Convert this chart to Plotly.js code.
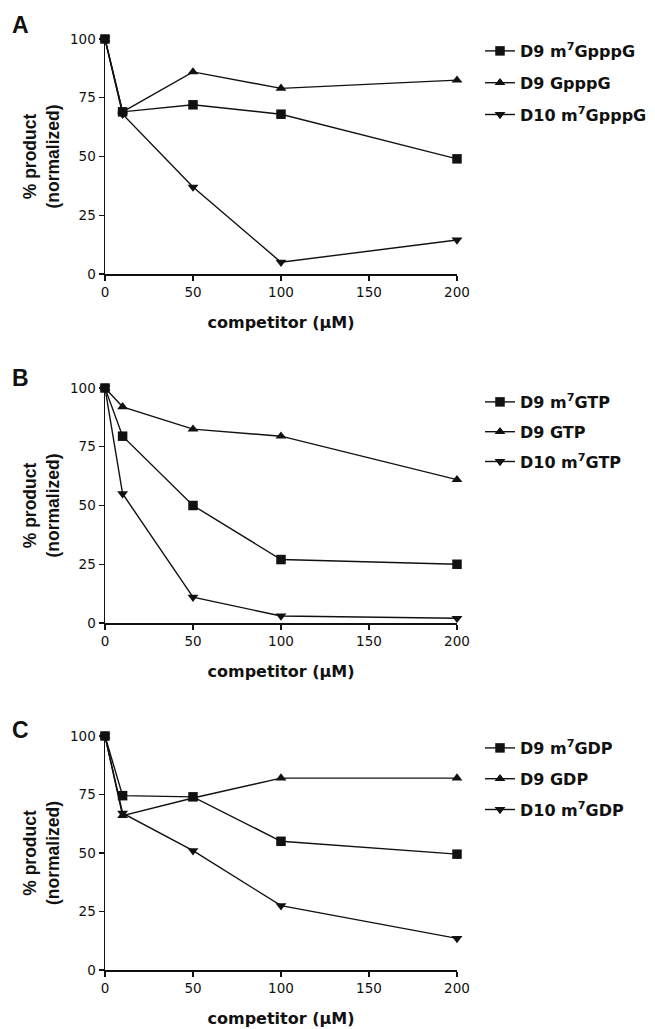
<!DOCTYPE html>
<html>
<head>
<meta charset="utf-8">
<script src="https://cdn.plot.ly/plotly-3.0.1.min.js"></script>
<style>html,body{margin:0;padding:0;background:#fff;}#chart{width:655px;height:1029px;}</style>
</head>
<body>
<div id="chart"></div>
<script>
// ---- data ----
const competitorUM = [0, 10, 50, 100, 200];
const xTicks = [0, 50, 100, 150, 200];
const yTicks = [0, 25, 50, 75, 100];

// Panel A
const namesA = ['D9 m<sup>7</sup>GpppG', 'D9 GpppG', 'D10 m<sup>7</sup>GpppG'];
const a_D9_m7GpppG = [100, 69, 72, 68, 49];
const a_D9_GpppG = [100, 69, 86, 79, 82.5];
const a_D10_m7GpppG = [100, 68, 37, 5, 14.5];

// Panel B
const namesB = ['D9 m<sup>7</sup>GTP', 'D9 GTP', 'D10 m<sup>7</sup>GTP'];
const b_D9_m7GTP = [100, 79.5, 50, 27, 25];
const b_D9_GTP = [100, 92, 82.5, 79.5, 61];
const b_D10_m7GTP = [100, 55, 11, 3, 2];

// Panel C
const namesC = ['D9 m<sup>7</sup>GDP', 'D9 GDP', 'D10 m<sup>7</sup>GDP'];
const c_D9_m7GDP = [100, 74.5, 74, 55, 49.5];
const c_D9_GDP = [100, 66, 73.5, 82, 82];
const c_D10_m7GDP = [100, 67, 51, 27.5, 13.5];

const panelLetters = ['A', 'B', 'C'];
const xTitle = 'competitor (µM)';
const yTitle = '% product<br>(normalized)';

// ---- layout helpers ----
const W = 655, H = 1029;
const px = v => v / W;
const py = v => 1 - v / H;
const ink = '#111';
const symbols = ['square', 'triangle-up', 'triangle-down'];

function traces(names, series, idx) {
  const sfx = idx === 0 ? '' : String(idx + 1);
  return series.map((ys, i) => ({
    type: 'scatter', mode: 'lines+markers',
    x: competitorUM, y: ys, name: names[i],
    xaxis: 'x' + sfx, yaxis: 'y' + sfx,
    legend: 'legend' + sfx,
    legendgroup: 'g' + idx + '_' + i,
    line: {color: ink, width: 1.4},
    marker: {symbol: symbols[i], size: 9.5, color: ink},
    cliponaxis: false
  }));
}

const data = [].concat(
  traces(namesA, [a_D9_m7GpppG, a_D9_GpppG, a_D10_m7GpppG], 0),
  traces(namesB, [b_D9_m7GTP, b_D9_GTP, b_D10_m7GTP], 1),
  traces(namesC, [c_D9_m7GDP, c_D9_GDP, c_D10_m7GDP], 2)
);

// pixel positions of each panel (top, bottom of y axis)
const panels = [[39, 274], [388, 623], [736, 970]];
const legendTops = [34, 385, 731];
const legendGaps = [8, 6, 7];
const letterY = [25, 378, 730];

const tickFont = {family: 'DejaVu Sans, Arial, sans-serif', size: 13.5, color: ink};
const layout = {
  width: W, height: H,
  margin: {l: 0, r: 0, t: 0, b: 0},
  paper_bgcolor: '#fff', plot_bgcolor: '#fff',
  showlegend: true,
  annotations: [],
  font: {family: 'DejaVu Sans, Arial, sans-serif', color: ink}
};

panels.forEach((p, i) => {
  const sfx = i === 0 ? '' : String(i + 1);
  layout['xaxis' + sfx] = {
    domain: [px(105), px(457)], range: [0, 200], anchor: 'y' + sfx,
    tickvals: xTicks, ticks: 'outside', ticklen: 5, tickwidth: 1.3, tickcolor: ink,
    showline: true, linecolor: ink, linewidth: 1.5, showgrid: false, zeroline: false,
    tickfont: tickFont,
    title: {text: xTitle, font: {family: 'DejaVu Sans, sans-serif', size: 16, weight: 'bold', color: ink}, standoff: 18}
  };
  layout['yaxis' + sfx] = {
    domain: [py(p[1]), py(p[0])], range: [0, 100], anchor: 'x' + sfx,
    tickvals: yTicks, ticks: 'outside', ticklen: 5, tickwidth: 1.3, tickcolor: ink,
    showline: true, linecolor: ink, linewidth: 1.5, showgrid: false, zeroline: false,
    tickfont: tickFont,
    title: {text: yTitle, font: {family: 'Liberation Sans, Arial, sans-serif', size: 17.5, weight: 'bold', color: ink}, standoff: 6}
  };
  layout['legend' + sfx] = {
    x: px(480), y: py(legendTops[i]), xanchor: 'left', yanchor: 'top',
    traceorder: 'grouped', tracegroupgap: legendGaps[i],
    bgcolor: 'rgba(0,0,0,0)', borderwidth: 0,
    font: {family: 'DejaVu Sans, sans-serif', size: 16, weight: 'bold', color: ink}
  };
  layout.annotations.push({
    text: panelLetters[i], xref: 'paper', yref: 'paper',
    x: px(20), y: py(letterY[i]), xanchor: 'center', yanchor: 'middle',
    showarrow: false,
    font: {family: 'Liberation Sans, Arial, sans-serif', size: 23, weight: 'bold', color: ink}
  });
});

Plotly.newPlot('chart', data, layout, {staticPlot: true, displayModeBar: false});
</script>
</body>
</html>
